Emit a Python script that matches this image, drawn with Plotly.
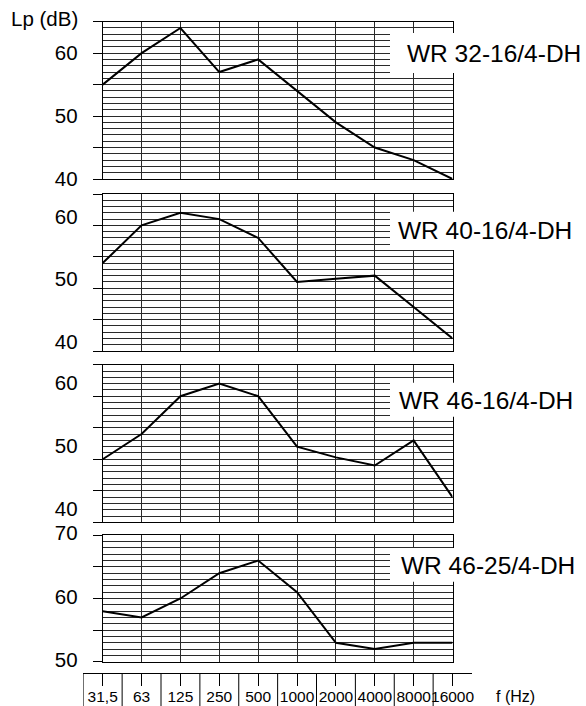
import plotly.graph_objects as go

# ---- data ----
bands = ["31,5", "63", "125", "250", "500", "1000", "2000", "4000", "8000", "16000"]
wr32_16 = [55, 60, 64, 57, 59, 54, 49, 45, 43, 40]
wr40_16 = [54, 60, 62, 61, 58, 51, 51.5, 52, 47, 42]
wr46_16 = [50, 54, 60, 62, 60, 52, 50.3, 49, 53, 44]
wr46_25 = [58, 57, 60, 64, 66, 61, 53, 52, 53, 53]
names = ["WR 32-16/4-DH", "WR 40-16/4-DH", "WR 46-16/4-DH", "WR 46-25/4-DH"]
series = [wr32_16, wr40_16, wr46_16, wr46_25]
y_ranges = [[40, 65], [40, 65], [40, 65], [50, 70]]
y_label_shift = [0, -9, -13, -2]

W, H = 586, 706
FONT = "Liberation Sans, Arial, Helvetica, sans-serif"

def py(px):
    return 1 - px / H

x_dom = [102.7 / W, 452.5 / W]
y_doms = [[py(179), py(21.7)], [py(351), py(194)], [py(522.3), py(364.7)], [py(661.7), py(535.3)]]
box_y = [(33, 73, 53, 405), (211.7, 250, 231, 396), (382.7, 416.7, 400, 397), (548, 581.7, 565, 399)]

fig = go.Figure()
grid_col = "#2a2a2a"
layout = dict(
    width=W, height=H, margin=dict(l=0, r=0, t=0, b=0, autoexpand=False),
    paper_bgcolor="white", plot_bgcolor="white", showlegend=False,
    font=dict(family=FONT, color="black"),
)
shapes = []
annotations = []

for i in range(4):
    n = i + 1
    xa = "x" if n == 1 else f"x{n}"
    ya = "y" if n == 1 else f"y{n}"
    fig.add_trace(go.Scatter(x=bands, y=series[i], mode="lines",
                             line=dict(color="black", width=2),
                             xaxis=xa, yaxis=ya, hoverinfo="skip"))
    lo, hi = y_ranges[i]
    tv = list(range(lo, hi + 1, 5))
    tt = [str(v) if v % 10 == 0 else "" for v in tv]
    layout[f"xaxis{'' if n == 1 else n}"] = dict(
        domain=x_dom, anchor=ya, type="category", range=[0, 9],
        showgrid=True, gridcolor=grid_col, gridwidth=1,
        showticklabels=False, ticks="", showline=True, mirror=True,
        linecolor="black", linewidth=1, zeroline=False, fixedrange=True,
        automargin=False,
    )
    layout[f"yaxis{'' if n == 1 else n}"] = dict(
        domain=y_doms[i], anchor=xa, range=[lo, hi],
        tickvals=tv, ticktext=tt, ticks="outside", ticklen=9,
        tickcolor="black", tickwidth=1, ticklabelstandoff=11,
        ticklabelshift=y_label_shift[i],
        tickfont=dict(size=20.5, family=FONT, color="black"),
        showgrid=True, gridcolor=grid_col, gridwidth=1,
        minor=dict(dtick=1, showgrid=True, gridcolor=grid_col, gridwidth=1, ticks=""),
        showline=True, mirror=True, linecolor="black", linewidth=1,
        zeroline=False, fixedrange=True, automargin=False,
    )
    y0, y1, yc, xt = box_y[i]
    shapes.append(dict(type="rect", xref="paper", yref="paper",
                       x0=390 / W, x1=1.0, y0=py(y1), y1=py(y0),
                       fillcolor="white", line=dict(width=0), layer="above"))
    annotations.append(dict(text=names[i], xref="paper", yref="paper",
                            x=xt / W, y=py(yc), xanchor="left", yanchor="middle",
                            showarrow=False, font=dict(size=24.5, family=FONT, color="black")))

# bottom frequency axis (own hidden y axis)
axis_y = py(673.3)
fig.add_trace(go.Scatter(x=bands, y=[None] * len(bands), mode="lines",
                         xaxis="x5", yaxis="y5", hoverinfo="skip", showlegend=False))
layout["xaxis5"] = dict(
    domain=[83.25 / W, 472.0 / W], anchor="y5",
    type="category", range=[-0.5, 9.5], showgrid=False,
    tickvals=bands, ticktext=bands, ticks="outside", ticklen=12,
    tickcolor="black", tickwidth=1, ticklabelstandoff=-3, tickangle=0,
    tickfont=dict(size=15.5, family=FONT, color="black"),
    showline=True, linecolor="black", linewidth=1, zeroline=False,
    fixedrange=True, automargin=False,
)
layout["yaxis5"] = dict(domain=[axis_y, axis_y + 0.005], anchor="x5", range=[0, 1],
                        visible=False, fixedrange=True, automargin=False)
for k in range(len(bands)):
    shapes.append(dict(type="line", xref="x5", yref="paper",
                       x0=k - 0.5, x1=k - 0.5, y0=axis_y, y1=0,
                       line=dict(color="black", width=1)))

annotations.append(dict(text="Lp (dB)", xref="paper", yref="paper",
                        x=80 / W, y=py(19), xanchor="right", yanchor="middle",
                        showarrow=False, font=dict(size=20.5, family=FONT, color="black")))
annotations.append(dict(text="f (Hz)", xref="paper", yref="paper",
                        x=515.5 / W, y=py(696), xanchor="center", yanchor="middle",
                        showarrow=False, font=dict(size=16, family=FONT, color="black")))

layout["shapes"] = shapes
layout["annotations"] = annotations
fig.update_layout(**layout)
fig.write_html(
    "out.html",
    config={"displayModeBar": False},
    post_script="document.body.style.margin='0';document.body.style.overflow='hidden';",
)
